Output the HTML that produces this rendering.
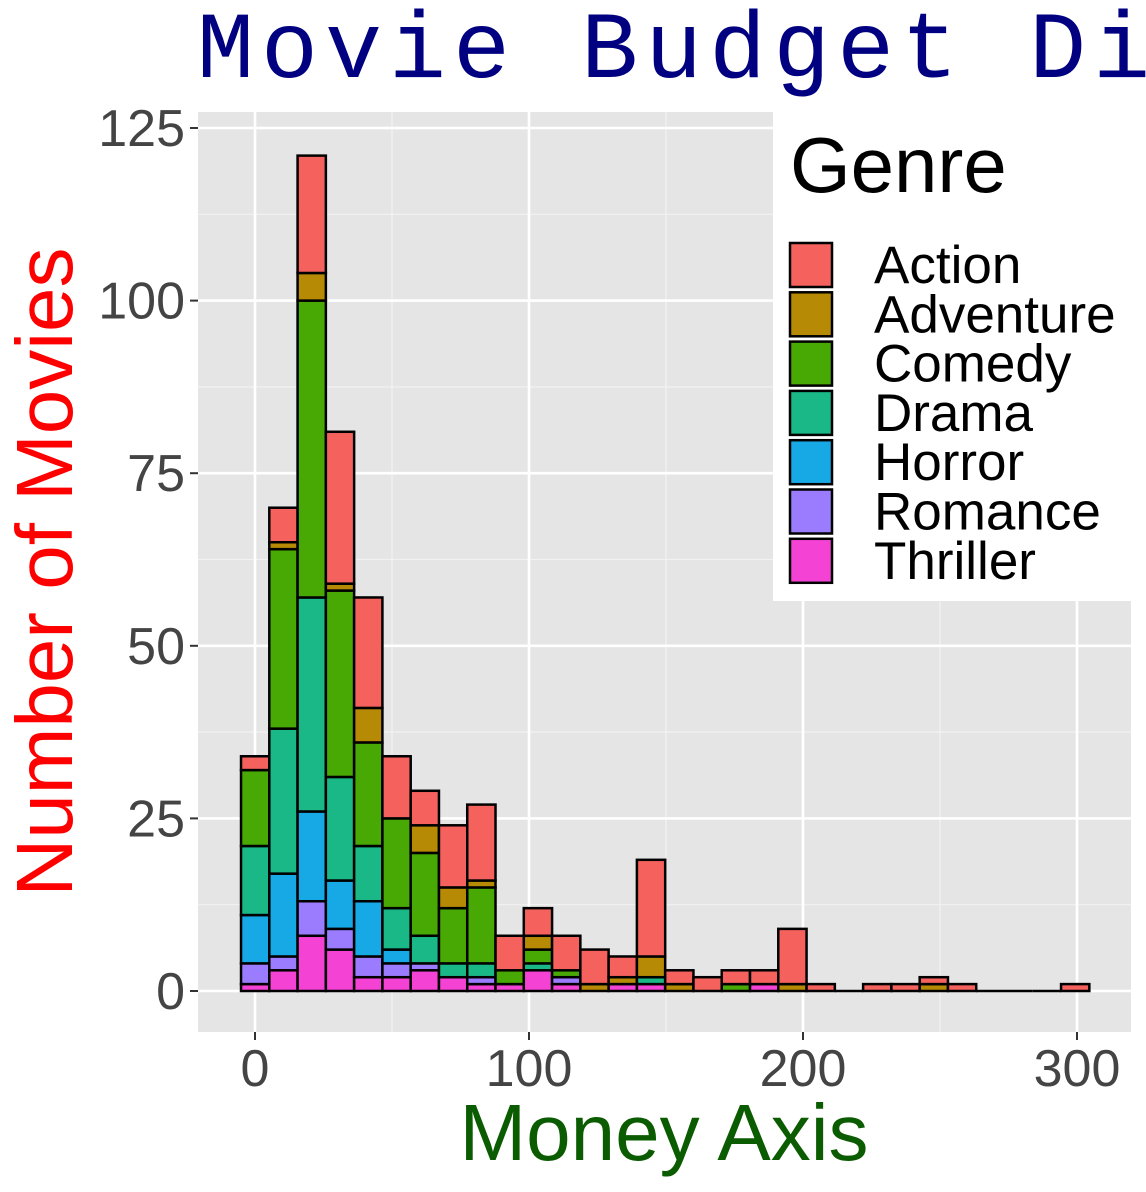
<!DOCTYPE html>
<html><head><meta charset="utf-8"><style>
body{margin:0;background:#fff;overflow:hidden}
svg{display:block;font-family:"Liberation Sans",Arial,sans-serif}
</style></head><body>
<svg id="chart" width="1146" height="1192" viewBox="0 0 1146 1192" xmlns="http://www.w3.org/2000/svg">
<rect width="1146" height="1192" fill="#fff"/>
<text x="197" y="77" font-family="Liberation Mono, monospace" font-size="95" letter-spacing="7" fill="#000080">Movie Budget Distribution</text>
<rect x="198" y="112" width="933" height="920" fill="#e5e5e5"/>
<g id="grid"></g>
<g id="bars"></g>
<g id="axes"></g>
<text transform="translate(72,572) rotate(-90)" text-anchor="middle" font-size="80" fill="#ff0000">Number of Movies</text>
<text x="664" y="1160" text-anchor="middle" font-size="80" fill="#0b5c00">Money Axis</text>
<g id="legend"></g>
</svg>
<script>
const genres = ["Thriller","Romance","Horror","Drama","Comedy","Adventure","Action"];
const colors = ["#f442d4","#9c7cfe","#17a8e6","#19b886","#48a804","#b78a05","#f5625e"];
const thriller  = [1,3,8,6,2,2,3,2,1,1,3,1,0,1,1,0,0,0,1,0,0,0,0,0,0,0,0,0,0,0];
const romance   = [3,2,5,3,3,2,1,0,1,0,0,1,0,0,0,0,0,0,0,0,0,0,0,0,0,0,0,0,0,0];
const horror    = [7,12,13,7,8,2,0,0,0,0,0,0,0,0,0,0,0,0,0,0,0,0,0,0,0,0,0,0,0,0];
const drama     = [10,21,31,15,8,6,4,2,2,0,1,0,0,0,1,0,0,0,0,0,0,0,0,0,0,0,0,0,0,0];
const comedy    = [11,26,43,27,15,13,12,8,11,2,2,1,0,0,0,0,0,1,0,0,0,0,0,0,0,0,0,0,0,0];
const adventure = [0,1,4,1,5,0,4,3,1,0,2,0,1,1,3,1,0,0,0,1,0,0,0,0,1,0,0,0,0,0];
const action    = [2,5,17,22,16,9,5,9,11,5,4,5,5,3,14,2,2,2,2,8,1,0,1,1,1,1,0,0,0,1];
const yTicks = [0,25,50,75,100,125];
const xTicks = [0,100,200,300];
const binStart = -5.1, binWidth = 10.32;

const series = [thriller,romance,horror,drama,comedy,adventure,action];
const NS = "http://www.w3.org/2000/svg";
const xS = v => 255 + v*2.74;
const yS = v => 991 - v*6.904;
function mk(tag, attrs, parent){ const e=document.createElementNS(NS,tag); for(const k in attrs) e.setAttribute(k,attrs[k]); parent.appendChild(e); return e; }

const grid = document.getElementById('grid');
for(let i=0;i<yTicks.length-1;i++){ const m=(yTicks[i]+yTicks[i+1])/2;
  const l=mk('line',{x1:198,x2:1131,y1:yS(m),y2:yS(m),stroke:'#f2f2f2','stroke-width':1.2},grid);
    }
for(let i=0;i<xTicks.length;i++){ const m=xTicks[i]+50;
  const l=mk('line',{x1:xS(m),x2:xS(m),y1:112,y2:1032,stroke:'#f2f2f2','stroke-width':1.2},grid);
    }
yTicks.forEach(t=>{ const l=mk('line',{x1:198,x2:1131,y1:yS(t),y2:yS(t),stroke:'#fff','stroke-width':2.6},grid);
    });
xTicks.forEach(t=>{ const l=mk('line',{x1:xS(t),x2:xS(t),y1:112,y2:1032,stroke:'#fff','stroke-width':2.6},grid);
    });

const bars = document.getElementById('bars');
const nb = action.length;
for(let b=0;b<nb;b++){
  let cum=0;
  const x0=xS(binStart+b*binWidth), x1=xS(binStart+(b+1)*binWidth);
  const total = series.reduce((s,a)=>s+a[b],0);
  if(total===0){
    const r=mk('line',{x1:x0,x2:x1,y1:yS(0),y2:yS(0),stroke:'#000','stroke-width':2.5},bars);
     
    continue;
  }
  series.forEach((arr,g)=>{
    const v=arr[b]; if(v===0) return;
    const r=mk('rect',{x:x0,y:yS(cum+v),width:x1-x0,height:yS(cum)-yS(cum+v),fill:colors[g],stroke:'#000','stroke-width':2.5},bars);
    
    
    cum+=v;
  });
}

const axes = document.getElementById('axes');
yTicks.forEach(t=>{
  const l=mk('line',{x1:190,x2:198,y1:yS(t),y2:yS(t),stroke:'#333','stroke-width':2},axes);
   
  const tx=mk('text',{x:185,y:yS(t)+18,'text-anchor':'end','font-size':52,fill:'#444'},axes);
  tx.textContent=t;
   
});
xTicks.forEach(t=>{
  const l=mk('line',{x1:xS(t),x2:xS(t),y1:1032,y2:1040,stroke:'#333','stroke-width':2},axes);
   
  const tx=mk('text',{x:xS(t),y:1086,'text-anchor':'middle','font-size':52,fill:'#444'},axes);
  tx.textContent=t;
   
});

const lg = document.getElementById('legend');
const bg=mk('rect',{x:773,y:112,width:373,height:489,fill:'#fff'},lg);
 
const lt=mk('text',{x:790,y:192,'font-size':78,fill:'#000'},lg);
lt.textContent='Genre';
 
const order=[6,5,4,3,2,1,0];
order.forEach((g,i)=>{
  const y=243+i*49.3;
  const r=mk('rect',{x:790,y:y,width:42,height:44,fill:colors[g],stroke:'#000','stroke-width':2.5},lg);
   
  const t=mk('text',{x:874,y:y+40,'font-size':53,fill:'#000'},lg);
  t.textContent=genres[g];
   
});
</script>
</body></html>
